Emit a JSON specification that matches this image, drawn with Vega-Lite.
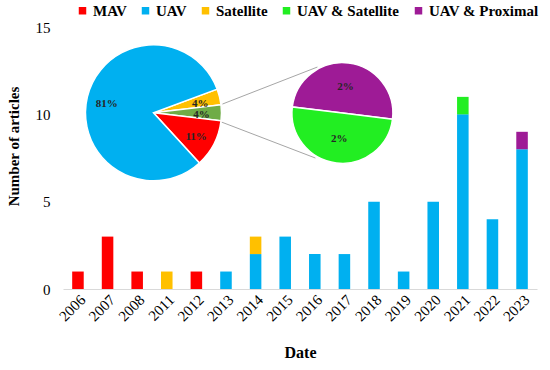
{
  "$schema": "https://vega.github.io/schema/vega-lite/v6.json",
  "width": 474,
  "height": 262,
  "autosize": {"type": "none"},
  "padding": {"left": 63, "top": 27, "right": 13, "bottom": 81},
  "background": "white",
  "config": {
    "view": {"stroke": null},
    "font": "Times New Roman, Liberation Serif, Tinos, serif",
    "text": {"font": "Times New Roman, Liberation Serif, Tinos, serif"}
  },
  "datasets": {
    "bars": [
      {"year": "2006", "cat": "MAV", "n": 1, "k": 0},
      {"year": "2007", "cat": "MAV", "n": 3, "k": 0},
      {"year": "2008", "cat": "MAV", "n": 1, "k": 0},
      {"year": "2011", "cat": "Satellite", "n": 1, "k": 2},
      {"year": "2012", "cat": "MAV", "n": 1, "k": 0},
      {"year": "2013", "cat": "UAV", "n": 1, "k": 1},
      {"year": "2014", "cat": "UAV", "n": 2, "k": 1},
      {"year": "2014", "cat": "Satellite", "n": 1, "k": 2},
      {"year": "2015", "cat": "UAV", "n": 3, "k": 1},
      {"year": "2016", "cat": "UAV", "n": 2, "k": 1},
      {"year": "2017", "cat": "UAV", "n": 2, "k": 1},
      {"year": "2018", "cat": "UAV", "n": 5, "k": 1},
      {"year": "2019", "cat": "UAV", "n": 1, "k": 1},
      {"year": "2020", "cat": "UAV", "n": 5, "k": 1},
      {"year": "2021", "cat": "UAV", "n": 10, "k": 1},
      {"year": "2021", "cat": "UAV & Satellite", "n": 1, "k": 3},
      {"year": "2022", "cat": "UAV", "n": 4, "k": 1},
      {"year": "2023", "cat": "UAV", "n": 8, "k": 1},
      {"year": "2023", "cat": "UAV & Proximal", "n": 1, "k": 4}
    ],
    "pie1": [
      {"cat": "Satellite", "n": 2, "k": 0, "label": "4%"},
      {"cat": "Other", "n": 2, "k": 1, "label": "4%"},
      {"cat": "MAV", "n": 6, "k": 2, "label": "11%"},
      {"cat": "UAV", "n": 43, "k": 3, "label": "81%"}
    ],
    "pie2": [
      {"cat": "UAV & Proximal", "n": 1, "k": 0, "label": "2%"},
      {"cat": "UAV & Satellite", "n": 1, "k": 1, "label": "2%"}
    ]
  },
  "layer": [
    {
      "data": {"name": "bars"},
      "mark": {"type": "bar"},
      "encoding": {
        "x": {
          "field": "year",
          "type": "ordinal",
          "scale": {"paddingInner": 0.61, "paddingOuter": 0.31},
          "axis": {
            "title": "Date",
            "labelAngle": -45,
            "labelFontSize": 15,
            "labelColor": "#000000",
            "labelPadding": 3,
            "ticks": false,
            "domainColor": "#D9D9D9",
            "domainWidth": 1,
            "titleFontSize": 16,
            "titleFontWeight": "bold",
            "titleColor": "#000000",
            "titlePadding": 21
          }
        },
        "y": {
          "field": "n",
          "type": "quantitative",
          "aggregate": "sum",
          "scale": {"domain": [0, 15], "nice": false},
          "axis": {
            "title": "Number of articles",
            "values": [0, 5, 10, 15],
            "grid": false,
            "domain": false,
            "ticks": false,
            "labelFontSize": 15,
            "labelColor": "#000000",
            "labelPadding": 13,
            "titleFontSize": 15,
            "titleFontWeight": "bold",
            "titleColor": "#000000",
            "titlePadding": 14,
            "titleY": 119
          }
        },
        "color": {
          "field": "cat",
          "type": "nominal",
          "scale": {
            "domain": ["MAV", "UAV", "Satellite", "UAV & Satellite", "UAV & Proximal", "Other"],
            "range": ["#FF0000", "#00B0F0", "#FFC000", "#22EE22", "#9E1B96", "#6FAC46"]
          },
          "legend": {
            "title": null,
            "orient": "none",
            "legendX": 12,
            "legendY": -24,
            "direction": "horizontal",
            "columns": 5,
            "columnPadding": 11,
            "values": ["MAV", "UAV", "Satellite", "UAV & Satellite", "UAV & Proximal"],
            "symbolType": "square",
            "symbolSize": 56,
            "symbolStrokeWidth": 0,
            "symbolOffset": 0,
            "labelOffset": 3,
            "labelFontSize": 15,
            "labelFontWeight": "bold",
            "labelColor": "#000000",
            "labelLimit": 300
          }
        },
        "order": {"field": "k", "type": "quantitative"}
      }
    },
    {
      "data": {"values": [{}]},
      "mark": {"type": "rule", "color": "#A6A6A6", "strokeWidth": 1, "xOffset": 55.7, "yOffset": -10.3, "x2Offset": -27, "y2Offset": -47.3},
      "encoding": {
        "x": {"datum": "2011", "type": "ordinal"},
        "x2": {"datum": "2017"},
        "y": {"datum": 10, "type": "quantitative"},
        "y2": {"datum": 10}
      }
    },
    {
      "data": {"values": [{}]},
      "mark": {"type": "rule", "color": "#A6A6A6", "strokeWidth": 1, "xOffset": 54.7, "yOffset": 7.7, "x2Offset": -29, "y2Offset": 43.7},
      "encoding": {
        "x": {"datum": "2011", "type": "ordinal"},
        "x2": {"datum": "2017"},
        "y": {"datum": 10, "type": "quantitative"},
        "y2": {"datum": 10}
      }
    },
    {
      "data": {"name": "pie1"},
      "encoding": {
        "x": {"datum": "2011", "type": "ordinal"},
        "y": {"datum": 10, "type": "quantitative"},
        "theta": {"field": "n", "type": "quantitative", "stack": true, "scale": {"range": [1.215, 7.498]}},
        "order": {"field": "k", "type": "quantitative"}
      },
      "layer": [
        {
          "mark": {"type": "arc", "outerRadius": 68, "stroke": "white", "strokeWidth": 1.5, "xOffset": -13.3, "yOffset": -1.5},
          "encoding": {
            "color": {"field": "cat", "type": "nominal"}
          }
        },
        {
          "mark": {"type": "text", "radius": 48, "fontSize": 11, "fontWeight": "bold", "xOffset": -13.3, "yOffset": -1.5, "dy": 2},
          "encoding": {
            "text": {"field": "label"},
            "detail": {"field": "cat"},
            "color": {"value": "#262626"}
          }
        }
      ]
    },
    {
      "data": {"name": "pie2"},
      "encoding": {
        "x": {"datum": "2017", "type": "ordinal"},
        "y": {"datum": 10, "type": "quantitative"},
        "theta": {"field": "n", "type": "quantitative", "stack": true, "scale": {"range": [-1.449, 4.834]}},
        "order": {"field": "k", "type": "quantitative"}
      },
      "layer": [
        {
          "mark": {"type": "arc", "outerRadius": 50.5, "stroke": "white", "strokeWidth": 1.5, "xOffset": -2, "yOffset": -1.3},
          "encoding": {
            "color": {"field": "cat", "type": "nominal"}
          }
        },
        {
          "mark": {"type": "text", "radius": 26, "fontSize": 11, "fontWeight": "bold", "xOffset": -2, "yOffset": -1.3},
          "encoding": {
            "text": {"field": "label"},
            "detail": {"field": "cat"},
            "color": {"value": "#262626"}
          }
        }
      ]
    }
  ],
  "resolve": {"scale": {"theta": "independent"}}
}
